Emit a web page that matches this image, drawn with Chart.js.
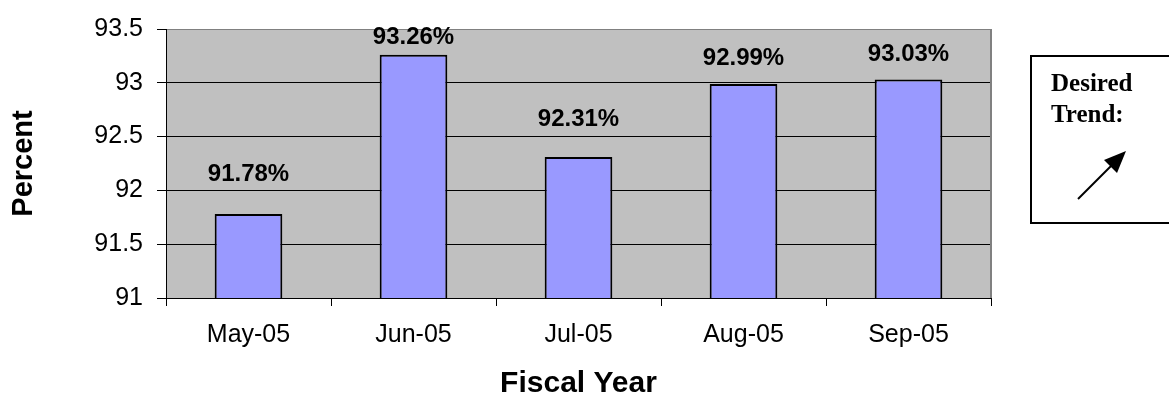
<!DOCTYPE html>
<html>
<head>
<meta charset="utf-8">
<script src="https://cdn.jsdelivr.net/npm/chart.js@4.4.0/dist/chart.umd.min.js"></script>
<style>
  html, body { margin: 0; padding: 0; background: #fff; }
  #wrap { width: 1169px; height: 399px; }
</style>
</head>
<body>
<div id="wrap"><canvas id="chart" width="1169" height="399"></canvas></div>
<script>
// datos del grafico
const months = ['May-05', 'Jun-05', 'Jul-05', 'Aug-05', 'Sep-05'];
const percentValues = [91.78, 93.26, 92.31, 92.99, 93.03];
const yTicks = [91, 91.5, 92, 92.5, 93, 93.5];

// fondo gris del area de grafico + borde derecho
const plotBackground = {
  id: 'plotBackground',
  beforeDraw(chart) {
    const { ctx, chartArea: a } = chart;
    ctx.save();
    ctx.fillStyle = '#c0c0c0';
    ctx.fillRect(a.left, a.top, a.right - a.left, a.bottom - a.top);
    ctx.restore();
  },
  afterDraw(chart) {
    const { ctx, chartArea: a } = chart;
    ctx.save();
    ctx.strokeStyle = '#808080';
    ctx.lineWidth = 2;
    ctx.beginPath();
    ctx.moveTo(a.right, a.top);
    ctx.lineTo(a.right, a.bottom);
    ctx.stroke();
    ctx.restore();
  }
};

// etiquetas sobre las barras
const barLabels = {
  id: 'barLabels',
  afterDatasetsDraw(chart, args, opts) {
    const { ctx } = chart;
    const meta = chart.getDatasetMeta(0);
    ctx.save();
    ctx.font = 'bold 24px "Liberation Sans", Arial, sans-serif';
    ctx.fillStyle = '#000';
    ctx.textAlign = 'center';
    ctx.textBaseline = 'middle';
    meta.data.forEach((bar, i) => {
      const v = chart.data.datasets[0].data[i];
      ctx.fillText(v.toFixed(2) + '%', bar.x, bar.y - opts.gaps[i]);
    });
    ctx.restore();
  }
};

// cuadro "Desired Trend:" con flecha
const trendBox = {
  id: 'trendBox',
  afterDraw(chart) {
    const { ctx } = chart;
    ctx.save();
    ctx.strokeStyle = '#000';
    ctx.lineWidth = 2;
    ctx.strokeRect(1031, 56, 150, 167);
    ctx.font = 'bold 25px "Liberation Serif", "Times New Roman", serif';
    ctx.fillStyle = '#000';
    ctx.textAlign = 'left';
    ctx.textBaseline = 'alphabetic';
    ctx.fillText('Desired', 1051, 91);
    ctx.fillText('Trend:', 1051, 122);
    // flecha
    ctx.beginPath();
    ctx.moveTo(1078, 199);
    ctx.lineTo(1114, 163);
    ctx.stroke();
    ctx.beginPath();
    ctx.moveTo(1126, 151);
    ctx.lineTo(1104, 160);
    ctx.lineTo(1117, 173);
    ctx.closePath();
    ctx.fill();
    ctx.restore();
  }
};

const ctx = document.querySelector('#chart').getContext('2d');
const myChart = new Chart(ctx, {
  type: 'bar',
  data: {
    labels: months,
    datasets: [{
      data: percentValues,
      backgroundColor: '#9999ff',
      borderColor: '#000',
      borderWidth: 2,
      barPercentage: 0.41,
      categoryPercentage: 1
    }]
  },
  options: {
    responsive: false,
    animation: false,
    layout: { padding: { left: 0, top: 20, right: 178, bottom: 0 } },
    plugins: {
      legend: { display: false },
      tooltip: { enabled: false },
      barLabels: { gaps: [40, 17, 38, 26, 25] }
    },
    scales: {
      x: {
        afterFit(scale) { scale.height = 101; },
        grid: {
          offset: true,
          drawOnChartArea: false,
          tickLength: 8,
          tickColor: '#000'
        },
        border: { color: '#000', width: 1 },
        ticks: {
          color: '#000',
          padding: 14,
          font: { family: '"Liberation Sans", Arial, sans-serif', size: 25 }
        },
        title: {
          display: true,
          text: 'Fiscal Year',
          color: '#000',
          padding: 0,
          font: { family: '"Liberation Sans", Arial, sans-serif', size: 30, weight: 'bold', lineHeight: 1 }
        }
      },
      y: {
        min: 91,
        max: 93.5,
        afterFit(scale) { scale.width = 166; },
        afterBuildTicks(scale) { scale.ticks = yTicks.map(v => ({ value: v })); },
        grid: {
          color: c => (c.tick && c.tick.value === 93.5) ? '#808080' : '#000',
          tickColor: '#000',
          tickLength: 9,
          lineWidth: 1
        },
        border: { color: '#000', width: 1 },
        ticks: {
          color: '#000',
          padding: 14,
          callback: v => String(v),
          font: { family: '"Liberation Sans", Arial, sans-serif', size: 25 }
        },
        title: {
          display: true,
          text: 'Percent',
          color: '#000',
          padding: { top: 9, bottom: 0 },
          font: { family: '"Liberation Sans", Arial, sans-serif', size: 29, weight: 'bold', lineHeight: 1 }
        }
      }
    }
  },
  plugins: [plotBackground, barLabels, trendBox]
});
</script>
</body>
</html>
